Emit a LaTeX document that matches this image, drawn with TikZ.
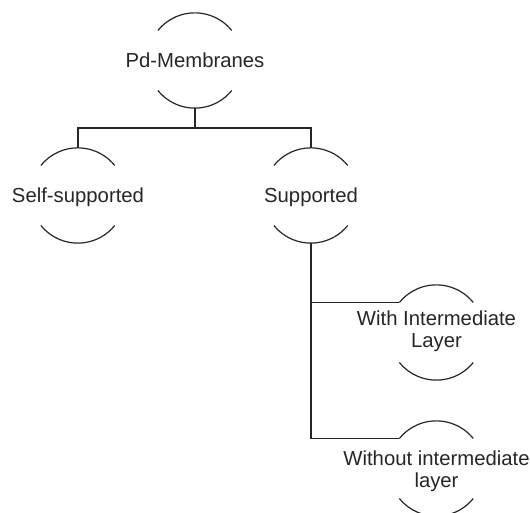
\documentclass[tikz,border=0pt]{standalone}
\usepackage{fontspec}
\setmainfont{Liberation Sans}
\begin{document}
\begin{tikzpicture}[x=1pt,y=1pt,
  memb/.style={circle, minimum size=95pt, inner sep=0pt},
  txt/.style={font=\fontsize{20.3}{22}\selectfont, align=center, text=black!85},
  arcline/.style={line width=1.2pt, black!85},
  conn/.style={line width=1.2pt, black!85}]
\useasboundingbox (0,0) rectangle (530,513);
\node[memb] (pd) at (195,452.5) {};
\node[memb] (self) at (78,317.5) {};
\node[memb] (sup) at (311,317.5) {};
\node[memb] (with) at (436.5,180.5) {};
\node[memb] (without) at (436.5,44.5) {};
\node[txt] (tpd) at (pd.center) {Pd-Membranes};
\node[txt] (tself) at ([yshift=-1.5pt]self.center) {Self-supported};
\node[txt] (tsup) at ([yshift=-1.5pt]sup.center) {Supported};
\node[txt] (twith) at ([yshift=1.5pt]with.center) {With Intermediate\\Layer};
\node[txt] (twithout) at ([yshift=-3pt]without.center) {Without intermediate\\layer};
\foreach \n in {pd,self,sup,with,without}{
  \draw[arcline] (\n.141) arc[start angle=141,end angle=39,radius=47.5pt];
  \draw[arcline] (\n.219) arc[start angle=219,end angle=321,radius=47.5pt];
}
\coordinate (bar) at (195,385);
\draw[conn] (pd.south) -- (pd.south |- bar);
\draw[conn] (self.north) -- (self.north |- bar) -- (sup.north |- bar) -- (sup.north);
\draw[conn] (sup.south) |- (without.141);
\draw[conn] (sup.south |- with.141) -- (with.141);
\end{tikzpicture}
\end{document}
